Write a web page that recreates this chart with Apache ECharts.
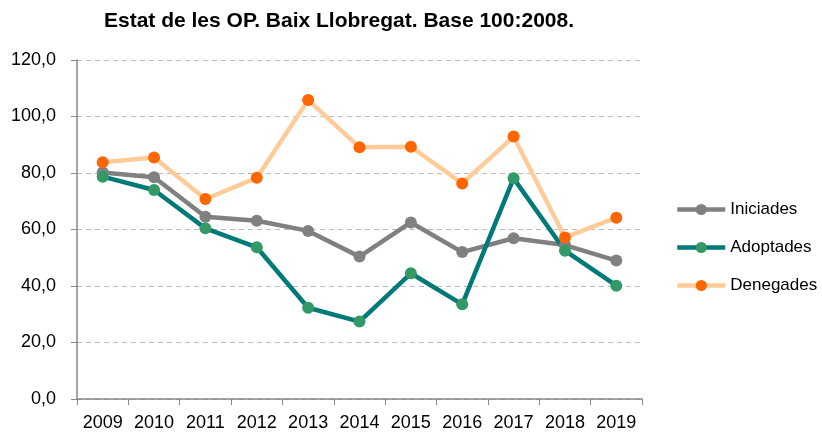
<!DOCTYPE html>
<html>
<head>
<meta charset="utf-8">
<script src="https://cdn.jsdelivr.net/npm/echarts@6/dist/echarts.min.js"></script>
<style>html,body{margin:0;padding:0;background:#fff;}#c{width:822px;height:439px;}</style>
</head>
<body>
<div id="c"></div>
<script>
const title = 'Estat de les OP. Baix Llobregat. Base 100:2008.';
const years = ['2009','2010','2011','2012','2013','2014','2015','2016','2017','2018','2019'];
const iniciades = [80.2, 78.5, 64.5, 63.1, 59.5, 50.4, 62.5, 52.0, 56.9, 54.5, 49.0];
const adoptades = [78.7, 74.0, 60.4, 53.7, 32.3, 27.4, 44.5, 33.5, 78.1, 52.5, 40.1];
const denegades = [83.8, 85.5, 70.8, 78.3, 105.8, 89.1, 89.3, 76.3, 92.9, 57.2, 64.2];

const font = '"Liberation Sans Narrow", "Arial Narrow", "Liberation Sans", Arial, sans-serif';
const chart = echarts.init(document.getElementById('c'));
function mk(name, data, lineColor, dotColor) {
  return {
    name: name, type: 'line', data: data,
    symbol: 'circle', symbolSize: 12,
    lineStyle: {color: lineColor, width: 4.5},
    itemStyle: {color: dotColor},
    emphasis: {disabled: true},
    animation: false
  };
}
chart.setOption({
  animation: false,
  title: {
    text: title, left: 334, top: 6, textAlign: 'center',
    textStyle: {fontFamily: font, fontSize: 21, fontWeight: 'bold', color: '#000'}
  },
  grid: {left: 77, right: 180, top: 60, bottom: 40},
  legend: {
    orient: 'vertical', left: 670, top: 196, itemGap: 21,
    itemWidth: 48, itemHeight: 14,
    lineStyle: {width: 4.5},
    textStyle: {fontFamily: font, fontSize: 17, color: '#000'},
    data: ['Iniciades', 'Adoptades', 'Denegades']
  },
  xAxis: {
    type: 'category', data: years, boundaryGap: true,
    axisLine: {lineStyle: {color: '#888', width: 1.5}},
    axisTick: {show: true, length: 6, alignWithLabel: false, lineStyle: {color: '#888'}},
    axisLabel: {fontFamily: font, fontSize: 18, color: '#000', margin: 15, interval: 0}
  },
  yAxis: {
    type: 'value', min: 0, max: 120, interval: 20,
    axisLine: {show: true, lineStyle: {color: '#888', width: 1.5}},
    axisTick: {show: true, length: 6, lineStyle: {color: '#888'}},
    axisLabel: {fontFamily: font, fontSize: 18, color: '#000', margin: 21,
      formatter: v => v.toFixed(1).replace('.', ',')},
    splitLine: {lineStyle: {color: '#bbb', type: [5, 4], width: 1.2}}
  },
  series: [
    mk('Iniciades', iniciades, '#808080', '#808080'),
    mk('Adoptades', adoptades, '#007a78', '#339966'),
    mk('Denegades', denegades, '#ffcc99', '#ff6600')
  ]
});
</script>
</body>
</html>
